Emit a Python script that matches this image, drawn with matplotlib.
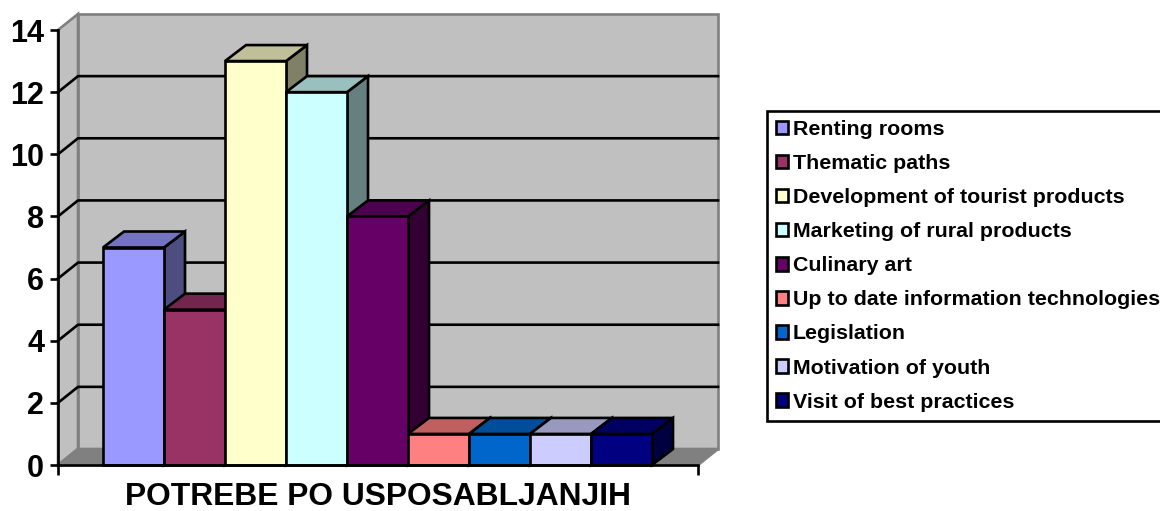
import matplotlib
matplotlib.use("Agg")
import matplotlib.pyplot as plt
from matplotlib.patches import Patch
from matplotlib.colors import to_rgb

plt.rcParams['font.family'] = ['Liberation Sans', 'DejaVu Sans']
plt.rcParams['font.weight'] = 'bold'

categories = ["Renting rooms", "Thematic paths", "Development of tourist products",
              "Marketing of rural products", "Culinary art", "Up to date information technologies",
              "Legislation", "Motivation of youth", "Visit of best practices"]
values = [7, 5, 13, 12, 8, 1, 1, 1, 1]
colors = ["#9999FF", "#993366", "#FFFFCC", "#CCFFFF", "#660066",
          "#FF8080", "#0066CC", "#CCCCFF", "#000080"]
y_ticks = [0, 2, 4, 6, 8, 10, 12, 14]
x_label = "POTREBE PO USPOSABLJANJIH"

W, H = 1160, 511
fig = plt.figure(figsize=(W / 100, H / 100), dpi=100)
ax = fig.add_axes([58 / W, 1 - 465 / H, 640 / W, 435 / H])

# axis range, one bar is one unit wide (61 px)
x0, x1 = -0.738, 9.754
ax.set_xlim(x0, x1)
ax.set_ylim(0, 14)
ax.patch.set_visible(False)

# fake 3d depth in data units
wall_dx, depth_dy = 20 / 61, 16 * 14 / 435
bar_dx = 21 / 61
lw = 1.9

# walls and floor
ax.fill([x0 + wall_dx, x1 + wall_dx, x1 + wall_dx, x0 + wall_dx],
        [depth_dy, depth_dy, 14 + depth_dy, 14 + depth_dy],
        facecolor="#C0C0C0", edgecolor="#808080", lw=lw, clip_on=False, zorder=1)
ax.fill([x0, x0 + wall_dx, x0 + wall_dx, x0], [0, depth_dy, 14 + depth_dy, 14],
        facecolor="#C0C0C0", edgecolor="#808080", lw=lw, clip_on=False, zorder=1)
ax.fill([x0, x0 + wall_dx, x1 + wall_dx, x1], [0, depth_dy, depth_dy, 0],
        facecolor="#808080", edgecolor="#808080", lw=lw, clip_on=False, zorder=1)

# gridlines run across the side wall and the back wall
for v in y_ticks[1:-1]:
    ax.plot([x0, x0 + wall_dx, x1 + wall_dx], [v, v + depth_dy, v + depth_dy],
            color="black", lw=lw, clip_on=False, zorder=2)

for i, (v, c) in enumerate(zip(values, colors)):
    base = to_rgb(c)
    top = tuple(k * 0.75 for k in base)
    side = tuple(k * 0.5 for k in base)
    z = 3 + i
    ax.fill([i + 1, i + 1 + bar_dx, i + 1 + bar_dx, i + 1], [0, depth_dy, v + depth_dy, v],
            facecolor=side, edgecolor="black", lw=lw, clip_on=False, zorder=z, joinstyle="miter")
    ax.fill([i, i + 1, i + 1 + bar_dx, i + bar_dx], [v, v, v + depth_dy, v + depth_dy],
            facecolor=top, edgecolor="black", lw=lw, clip_on=False, zorder=z, joinstyle="miter")
    ax.bar(i, v, width=1, align="edge", color=c, edgecolor="black", lw=lw, clip_on=False, zorder=z)

for s in ["top", "right"]:
    ax.spines[s].set_visible(False)
for s in ["left", "bottom"]:
    ax.spines[s].set_linewidth(lw)
    ax.spines[s].set_zorder(20)

ax.set_yticks(y_ticks)
ax.set_xticks([x0, x1])
ax.set_xticklabels(["", ""])
ax.tick_params(axis="y", length=6, width=lw, labelsize=22, pad=4)
ax.tick_params(axis="x", length=7, width=lw)
ax.set_xlabel(x_label, fontsize=22.9, fontweight="bold", labelpad=1.5)

handles = [Patch(facecolor=c, edgecolor="black", lw=lw) for c in colors]
leg = ax.legend(handles, categories, loc="upper left",
                bbox_to_anchor=(767 / W, 1 - 111 / H), bbox_transform=fig.transFigure,
                borderaxespad=0, fancybox=False, framealpha=1, edgecolor="black",
                fontsize=15.4, handlelength=0.55, handleheight=0.6, handletextpad=0.25,
                labelspacing=0.705, borderpad=0.42)
leg.get_frame().set_linewidth(lw)
for t in leg.get_texts():
    t.set_fontweight("bold")

fig.savefig("out.png", dpi=100)
